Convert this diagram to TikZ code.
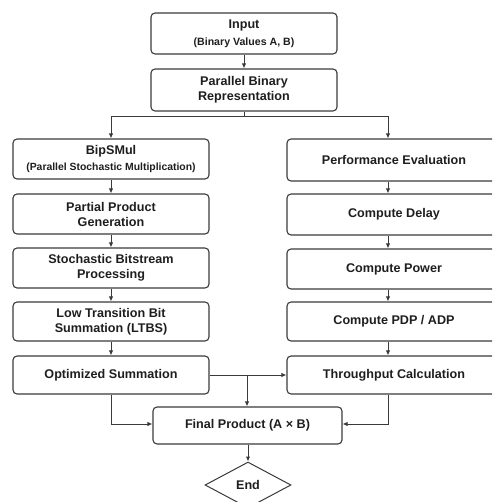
\documentclass[tikz,border=0pt]{standalone}
\usepackage{fontspec}
\setmainfont{Liberation Sans}
\usetikzlibrary{arrows.meta,shapes.geometric}
\definecolor{linec}{HTML}{3A3A3A}
\definecolor{textc}{HTML}{1E1E1E}
\newcommand{\mainsz}{\fontsize{12.6}{15}\selectfont\bfseries}
\newcommand{\subsz}{\fontsize{10.6}{15}\selectfont\bfseries}
\newcommand{\subsmall}{\fontsize{10.4}{15}\selectfont\bfseries}
\tikzset{
  box/.style={draw=linec, line width=1.1pt, rounded corners=4pt, align=center,
    inner sep=0pt, text=textc, font=\mainsz},
  lbox/.style={box, minimum width=196pt, minimum height=40pt},
  rbox/.style={box, minimum width=214pt, minimum height=40pt},
  arr/.style={draw=linec, line width=1pt, -{Latex[length=5pt,width=4.5pt]}},
  ln/.style={draw=linec, line width=1pt},
}
\begin{document}
\begin{tikzpicture}[x=1pt,y=-1pt]
\useasboundingbox (0,0) rectangle (492,502);
\clip (0,0) rectangle (492,502);
% top
\node[box, minimum width=186pt, minimum height=41pt] (input) at (244,33.5)
  {Input\\[2pt]{\subsz (Binary Values A, B)}};
\node[box, minimum width=186pt, minimum height=42pt] (pbr) at (244,90)
  {Parallel Binary\\Representation};
% left column
\node[lbox] (bip) at (111,159) {BipSMul\\[1pt]{\subsmall (Parallel Stochastic Multiplication)}};
\node[lbox] (ppg) at (111,214) {Partial Product\\Generation};
\node[lbox] (sbp) at (111,268) {Stochastic Bitstream\\Processing};
\node[lbox, minimum height=39pt] (ltbs) at (111,321.5) {Low Transition Bit\\Summation (LTBS)};
\node[lbox, minimum height=38pt] (opt) at (111,375) {Optimized Summation};
% right column
\node[rbox, minimum height=42pt] (perf) at (394,160) {Performance Evaluation};
\node[rbox, minimum height=41pt] (delay) at (394,214.5) {Compute Delay};
\node[rbox] (power) at (394,269) {Compute Power};
\node[rbox, minimum height=39pt] (pdp) at (394,321.5) {Compute PDP / ADP};
\node[rbox, minimum height=38pt] (thr) at (394,375) {Throughput Calculation};
% bottom
\node[box, minimum width=189pt, minimum height=37pt] (final) at (247.5,425.5)
  {Final Product (A × B)};
\node[draw=linec, line width=1pt, diamond, aspect=1.87, inner sep=0pt,
  minimum width=86pt, minimum height=46pt, text=textc, font=\mainsz] (end) at (248,485) {End};
% helper coordinates
\coordinate (rx) at (388,0);
\coordinate (split) at (244,117);
\coordinate (mid) at (247,375);
\coordinate (ly) at (0,424);
% connectors
\draw[arr] (input) -- (pbr);
\draw[ln] (pbr.south) -- (split);
\draw[arr] (split) -| (bip.north);
\draw[arr] (split) -| (perf.north -| rx);
\draw[arr] (bip) -- (ppg);
\draw[arr] (ppg) -- (sbp);
\draw[arr] (sbp) -- (ltbs);
\draw[arr] (ltbs) -- (opt);
\draw[arr] (perf.south -| rx) -- (delay.north -| rx);
\draw[arr] (delay.south -| rx) -- (power.north -| rx);
\draw[arr] (power.south -| rx) -- (pdp.north -| rx);
\draw[arr] (pdp.south -| rx) -- (thr.north -| rx);
\draw[arr] (opt.east) -- (thr.west);
\draw[arr] (mid) -- (final.north -| mid);
\draw[arr] (opt.south) |- (final.west |- ly);
\draw[arr] (thr.south -| rx) |- (final.east |- ly);
\draw[arr] (final.south -| end) -- (end.north);
\end{tikzpicture}
\end{document}
